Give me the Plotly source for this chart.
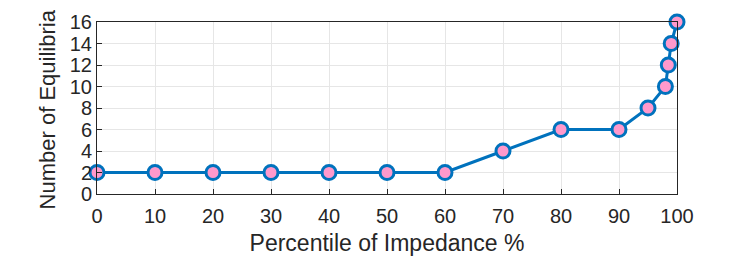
import plotly.graph_objects as go

percentile = [0, 10, 20, 30, 40, 50, 60, 70, 80, 90, 95, 98, 98.5, 99, 100]
equilibria = [2, 2, 2, 2, 2, 2, 2, 4, 6, 6, 8, 10, 12, 14, 16]
x_ticks = [0, 10, 20, 30, 40, 50, 60, 70, 80, 90, 100]
y_ticks = [0, 2, 4, 6, 8, 10, 12, 14, 16]

axis_col = "#262626"
font_family = "Liberation Sans, Arial, Helvetica"
fig = go.Figure()
fig.add_trace(go.Scatter(
    x=percentile, y=equilibria, mode="lines+markers",
    line=dict(color="#0072BD", width=3),
    marker=dict(size=14, color="#FF99CC", line=dict(color="#0072BD", width=3)),
    cliponaxis=False,
))
common = dict(showline=True, linecolor=axis_col, linewidth=1, mirror=True,
              ticks="inside", ticklen=5, tickcolor=axis_col, automargin=False,
              showgrid=True, gridcolor="#E6E6E6", gridwidth=1, zeroline=False,
              tickfont=dict(family=font_family, size=20, color=axis_col))
fig.update_xaxes(range=[0, 100], tickvals=x_ticks, ticklabelstandoff=4,
                 title=dict(text="Percentile of Impedance %", standoff=8,
                            font=dict(family=font_family, size=23, color=axis_col)),
                 **common)
fig.update_yaxes(range=[0, 16], tickvals=y_ticks, **common)
fig.add_annotation(text="Number of Equilibria", textangle=-90,
                   xref="paper", yref="paper", x=-0.085, y=0.49,
                   xanchor="center", yanchor="middle", showarrow=False,
                   font=dict(family=font_family, size=22, color=axis_col))
fig.update_layout(width=739, height=248, margin=dict(l=89, r=70, t=14, b=62),
                  plot_bgcolor="white", paper_bgcolor="white", showlegend=False)
fig.write_html("out.html")
